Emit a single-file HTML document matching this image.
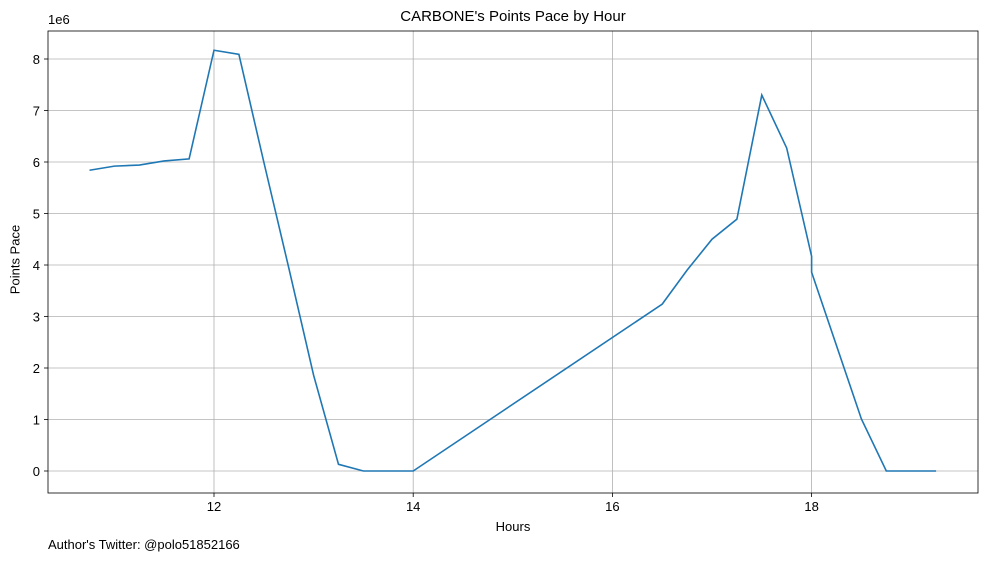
<!DOCTYPE html>
<html><head><meta charset="utf-8"><style>
body{margin:0;background:#fff;font-family:"Liberation Sans","DejaVu Sans",sans-serif;}
</style></head><body>
<svg id="c" width="988" height="562" xmlns="http://www.w3.org/2000/svg" font-family="'Liberation Sans','DejaVu Sans',sans-serif"></svg>
<script>
const hours=[10.75,11,11.25,11.5,11.75,12,12.25,12.5,12.75,13,13.25,13.5,13.75,14,16.5,16.75,17,17.25,17.5,17.75,18,18,18.5,18.75,19,19.25];
const pace=[5.84,5.92,5.94,6.02,6.06,8.17,8.09,6.0,3.95,1.86,0.13,0,0,0,3.24,3.9,4.5,4.89,7.3,6.27,4.17,3.86,1.01,0,0,0];
const xTicks=[12,14,16,18];
const yTicks=[0,1,2,3,4,5,6,7,8];
const L=48,R=978,T=31,B=493;
const sx=v=>214+(v-12)*99.6;
const sy=v=>471-v*51.5;
const svg=document.getElementById('c');
const NS='http://www.w3.org/2000/svg';
function mk(t,a,txt){const e=document.createElementNS(NS,t);for(const k in a)e.setAttribute(k,a[k]);if(txt!==undefined)e.textContent=txt;svg.appendChild(e);return e;}
for(const t of xTicks){
 const g=mk('line',{x1:sx(t),x2:sx(t),y1:T,y2:B,stroke:'#b0b0b0','stroke-width':0.8});
 
 
 mk('line',{x1:sx(t),x2:sx(t),y1:B,y2:B+4,stroke:'#000','stroke-width':0.8});
 const l=mk('text',{x:sx(t),y:B+18,'text-anchor':'middle','font-size':13},t);
 
 
}
for(const t of yTicks){
 const g=mk('line',{x1:L,x2:R,y1:sy(t),y2:sy(t),stroke:'#b0b0b0','stroke-width':0.8});
 
 
 mk('line',{x1:L-4,x2:L,y1:sy(t),y2:sy(t),stroke:'#000','stroke-width':0.8});
 const l=mk('text',{x:L-8,y:sy(t)+5,'text-anchor':'end','font-size':13},t);
 
 
}
const p=mk('polyline',{points:hours.map((h,i)=>sx(h)+','+sy(pace[i])).join(' '),fill:'none',stroke:'#1f77b4','stroke-width':1.6});


const f=mk('rect',{x:L,y:T,width:R-L,height:B-T,fill:'none',stroke:'#000','stroke-width':0.8});


</script>
<div style="position:absolute;left:0;top:0;width:988px;height:562px;pointer-events:none">
<div style="position:absolute;left:48px;width:930px;top:8px;text-align:center;font-size:15px">CARBONE's Points Pace by Hour</div>
<div style="position:absolute;left:48px;top:12px;font-size:13px">1e6</div>
<div style="position:absolute;left:48px;width:930px;top:519px;text-align:center;font-size:13px">Hours</div>
<div style="position:absolute;left:-35px;top:252px;width:100px;text-align:center;font-size:13px;transform:rotate(-90deg)">Points Pace</div>
<div style="position:absolute;left:48px;top:537px;font-size:13px">Author's Twitter: @polo51852166</div>
</div>
</body></html>
